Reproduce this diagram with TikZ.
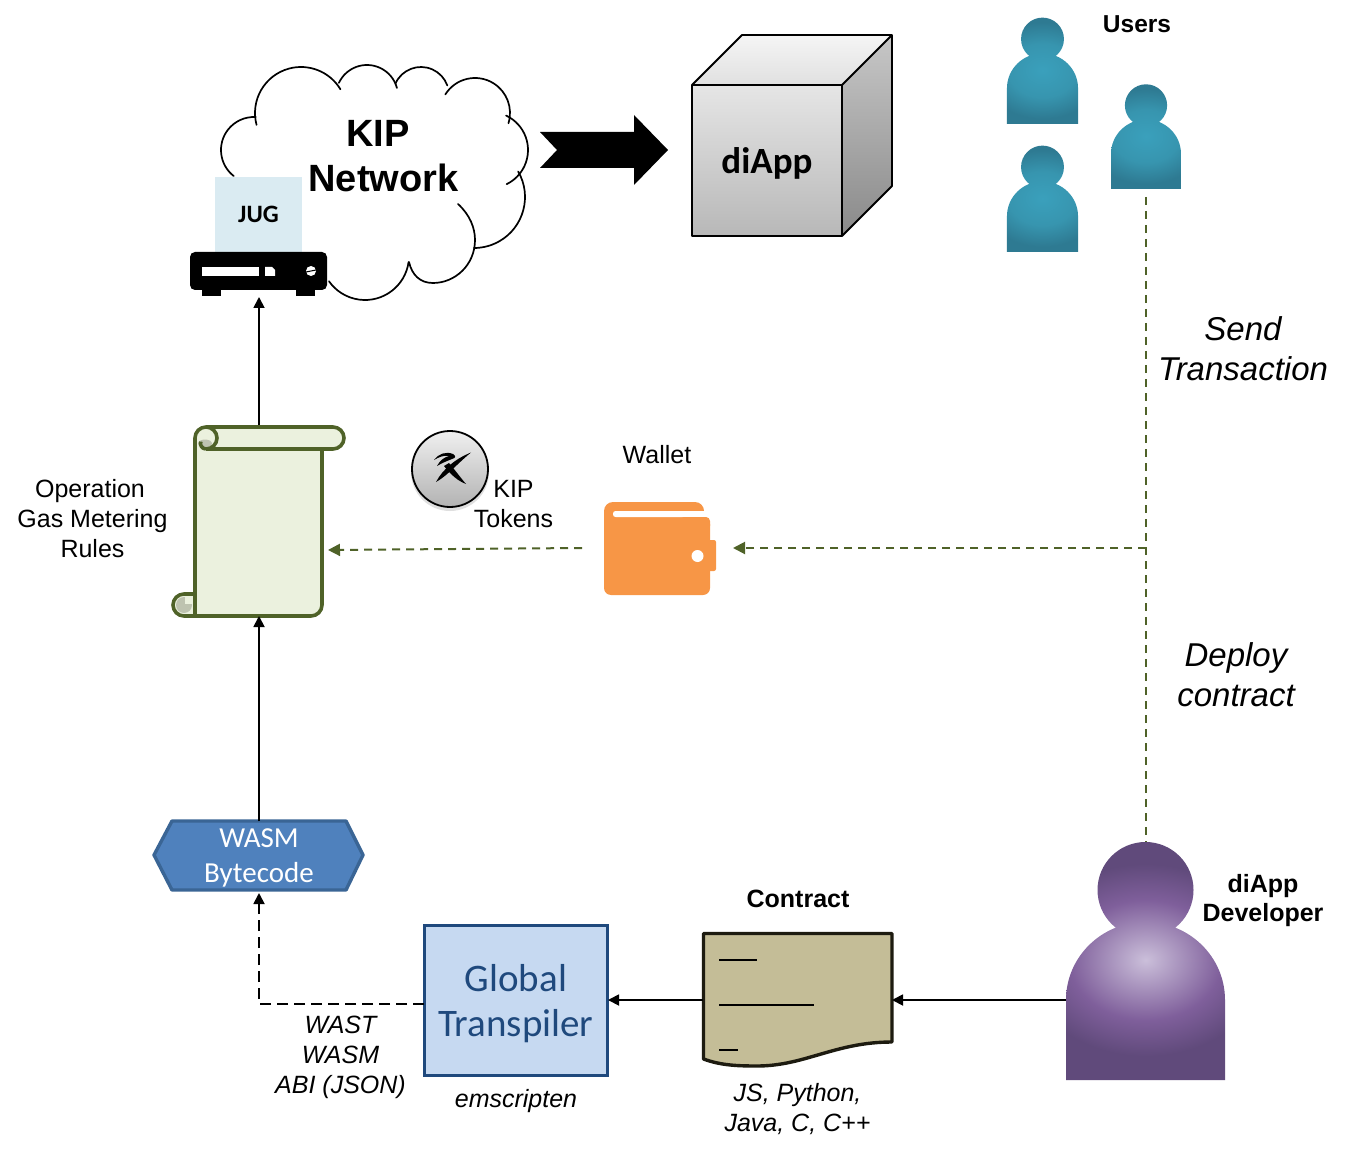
\documentclass[tikz,border=0pt]{standalone}
\usepackage{fontspec}
\setmainfont{Liberation Sans}
\newfontfamily\carlito{Carlito}
\usetikzlibrary{arrows.meta}
\definecolor{grn}{HTML}{4F6228}
\definecolor{scrollfill}{HTML}{EBF1DE}
\definecolor{curlfill}{HTML}{BEC3B0}
\definecolor{wal}{HTML}{F79646}
\definecolor{navy}{HTML}{1F497D}
\definecolor{navya}{HTML}{4F81BD}
\definecolor{navyb}{HTML}{3A6595}
\definecolor{jugfill}{HTML}{DAEBF2}
\definecolor{gtfill}{HTML}{C6D9F1}
\definecolor{docfill}{HTML}{C4BD97}
\definecolor{docline}{HTML}{1D1B10}
\definecolor{devA}{HTML}{CBBFDA}
\definecolor{devB}{HTML}{7F5F9B}
\definecolor{devC}{HTML}{604A7B}
\definecolor{tealA}{HTML}{3AA0BC}
\definecolor{tealB}{HTML}{3795AF}
\definecolor{tealC}{HTML}{2E7A92}
\pgfdeclareradialshading{devshade}{\pgfpoint{0bp}{0bp}}{color(0bp)=(devA);color(10bp)=(devB);color(16bp)=(devC);color(50bp)=(devC)}
\pgfdeclareradialshading{tealshade}{\pgfpoint{0bp}{0bp}}{color(0bp)=(tealA);color(10bp)=(tealB);color(18bp)=(tealC);color(50bp)=(tealC)}
\newcommand{\personicon}[4]{%
  \begin{scope}[shift={(#1,#2)},scale=#3]
    \clip (0,-190) circle[radius=48] (-79.5,0) -- (-79.5,-80) arc[start angle=180,end angle=360,x radius=79.5,y radius=78] -- (79.5,0) -- cycle;
    \shade[shading=#4] (0,-120) ellipse[x radius=190,y radius=150];
  \end{scope}}
\newcommand{\lobe}[5]{\draw[cloudline] (#1,#2) ++(#4:#3) arc[start angle=#4,end angle=#5,radius=#3];}
\tikzset{
  x=1pt,y=-1pt,
  lbl/.style={font=\fontsize{25}{30}\selectfont,align=center,inner sep=0pt},
  lblb/.style={font=\fontsize{25}{29.5}\selectfont\bfseries,align=center,inner sep=0pt},
  lbli/.style={font=\fontsize{25}{30}\selectfont\itshape,align=center,inner sep=0pt},
  lblbig/.style={font=\fontsize{33}{40}\selectfont\itshape,align=center,inner sep=0pt},
  kiptext/.style={font=\fontsize{38}{40}\selectfont\bfseries,inner sep=0pt},
  cloudline/.style={line width=1.7pt,line cap=round},
  conn/.style={line width=1.8pt,-{Triangle[length=11pt,width=11pt]}},
  greendash/.style={line width=2pt,draw=grn,dash pattern=on 8pt off 6pt},
  greenarrow/.style={greendash,-{Triangle[length=12pt,width=12pt]}},
  scrollline/.style={draw=grn,line width=3.6pt,line join=round},
}
\begin{document}
\begin{tikzpicture}
\path[use as bounding box] (0,0) rectangle (1347,1150);

% cloud
\lobe{254}{150}{33}{128}{273}
\lobe{301}{113}{46}{165}{329}
\lobe{367}{96}{31}{205}{345}
\lobe{421}{95}{28}{204}{340}
\lobe{475}{113}{35}{212}{377}
\lobe{490}{150}{38}{295}{424}
\lobe{474}{197}{51}{330}{450}
\draw[cloudline] (458,204) .. controls (470,215) and (475,228) .. (475,240) .. controls (475,265) and (455,283) .. (433,283) .. controls (420,283) and (412,275) .. (409,262);
\lobe{365}{256}{44}{8}{145}

\node[kiptext] (kip) at (378,133) {KIP};
\node[kiptext] (net) at (383.5,178) {Network};

% JUG & router
\node[inner sep=0pt,minimum width=87pt,minimum height=75pt,fill=jugfill,font=\carlito\bfseries\fontsize{25}{28}\selectfont] (jug) at (258.5,214.5) {JUG};
\fill[rounded corners=5pt] (190,252) rectangle (327,290);
\fill (202,288) rectangle (221,296);
\fill (296,288) rectangle (315,296);
\fill[white] (202,267) rectangle (259,276);
\fill[white] (265,267) -- (272,267) -- (275,270) -- (275,276) -- (265,276) -- cycle;
\fill[white] (311,271) circle[radius=5];
\draw[line width=1pt] (306,272) -- (316,270);
\coordinate (routerb) at (259,297);

% big arrow
\fill (540,132) -- (634,132) -- (634,115) -- (668,150) -- (634,185) -- (634,168) -- (540,168) -- (557,150) -- cycle;

% cube
\shade[top color=white!96!black,bottom color=white!88!black] (692,85) -- (742,35) -- (892,35) -- (842,85) -- cycle;
\shade[top color=black!22,bottom color=black!46] (842,85) -- (892,35) -- (892,186) -- (842,236) -- cycle;
\shade[top color=white!90!black,bottom color=white!72!black] (692,85) rectangle (842,236);
\draw[line width=1.8pt,line join=round] (692,85) -- (742,35) -- (892,35) -- (892,186) -- (842,236) -- (692,236) -- cycle (692,85) -- (842,85) -- (892,35) (842,85) -- (842,236);
\node[inner sep=0pt,font=\carlito\bfseries\fontsize{37}{40}\selectfont] (diapp) at (767,163) {diApp};

% users
\personicon{1042.5}{124}{.447}{tealshade}
\personicon{1042.5}{252}{.447}{tealshade}
\personicon{1146}{189}{.44}{tealshade}
\node[lblb,font=\fontsize{24.5}{29}\selectfont\bfseries] (users) at (1137,24) {Users};
\coordinate (u3) at (1146,197);

% scroll
\draw[scrollline,fill=scrollfill] (195,605) -- (195,438) arc[start angle=180,end angle=270,radius=11] -- (333,427) arc[start angle=270,end angle=450,radius=11] -- (322,449) -- (322,605) arc[start angle=0,end angle=90,radius=11] -- (184,616) arc[start angle=90,end angle=270,radius=11] -- (195,594);
\draw[scrollline] (206,449) -- (322,449);
\fill[scrollfill] (197,596) rectangle (204,614);
\draw[scrollline] (195,594) -- (195,614);
\fill[curlfill] (184,605) circle[radius=8];
\fill[scrollfill] (185,597) rectangle (193,604);
\fill[curlfill] (205,443.5) ellipse[x radius=7,y radius=4];
\draw[scrollline] (206,449) arc[start angle=90,end angle=200,radius=5.5];
\draw[scrollline] (206,427) arc[start angle=270,end angle=450,radius=11];
\coordinate (scrolltop) at (259,425);
\coordinate (scrollbot) at (259,616);
\coordinate (scrollr) at (328,550);

\node[lbl] (oper) at (92.5,519) {Operation\hspace*{5pt}\\Gas Metering\\Rules};

% coin
\fill[black!25,opacity=.5] (450,472) circle[radius=39];
\shade[top color=white!94!black,bottom color=black!30] (450,469) circle[radius=38];
\draw[line width=1.8pt] (450,469) circle[radius=38];
\fill (471,452.5) .. controls (455,459) and (443,469) .. (436,482) .. controls (447,476) and (457,464) .. (471,452.5) -- cycle;
\fill (444,466) .. controls (451,475) and (458,481) .. (466,484) .. controls (460,477) and (455,470) .. (449,463) -- cycle;
\fill (434,460) .. controls (438,454) and (446,451) .. (453,454) .. controls (456,456) and (456,458) .. (452,459) .. controls (447,461) and (442,463) .. (437,466) .. controls (440,460) and (445,457) .. (449,456) .. controls (444,455) and (439,457) .. (434,460) -- cycle;
\node[lbl] (tok) at (513.5,504) {KIP\\Tokens};

% wallet
\fill[wal,rounded corners=9pt] (604,540) -- (604,502) -- (704,502) -- (704,530) -- (604,530) -- cycle;
\fill[wal,rounded corners=7pt] (604,510) -- (710,517) -- (710,595) -- (604,595) -- cycle;
\fill[wal,rounded corners=2pt] (705,540) rectangle (716,571);
\fill[white,rounded corners=2.5pt] (613,511) rectangle (720,517);
\fill[wal,rounded corners=4pt] (680,517) -- (710,517) -- (710,530) -- (680,530) -- cycle;
\fill[white] (704,511.5) rectangle (716,517);
\fill[white] (697.5,556) circle[radius=6];
\node[lbl] (wallet) at (657,455) {Wallet};
\coordinate (walletr) at (733,548);
\coordinate (walletl) at (582,548);

% dashed connectors
\coordinate (devtop) at (1146,842);
\coordinate (junction) at (1146,548);
\draw[greendash] (u3) -- (devtop);
\draw[greenarrow] (junction) -- (walletr);
\draw[greenarrow] (walletl) -- (scrollr);
\node[lblbig] (send) at (1243,349) {Send\\Transaction};
\node[lblbig] (deploy) at (1236,675) {Deploy\\contract};

% wasm
\draw[draw=navyb,line width=3.4pt,fill=navya,line join=round] (172,821) -- (346,821) -- (363,855) -- (346,890) -- (172,890) -- (154,855) -- cycle;
\node[text=white,inner sep=0pt,align=center,font=\carlito\fontsize{29}{35}\selectfont] (wasm) at (259,858) {WASM\\Bytecode};
\coordinate (wasmt) at (259,821);
\coordinate (wasmb) at (259,893);

% transpiler
\node[draw=navy,line width=3.8pt,fill=gtfill,minimum width=183pt,minimum height=150pt,inner sep=0pt] (gt) at (516,1000.5) {};
\node[text=navy,align=center,inner sep=0pt,font=\carlito\fontsize{39}{45}\selectfont] (gttext) at (516,1003.5) {Global\\Transpiler};
\node[lbli] (ems) at (516,1101) {emscripten};
\node[lbli] (wast) at (340.5,1057) {WAST\\WASM\\ABI (JSON)};
\coordinate (gtl) at (424,1004);
\coordinate (gtr) at (608,1000);
\coordinate (corner) at (259,1004);

% contract document
\draw[draw=docline,line width=3.4pt,fill=docfill,line join=round] (703.5,933.5) -- (892,933.5) -- (892,1042) .. controls (835,1042) and (805,1066) .. (757,1066) .. controls (735,1066) and (720,1065) .. (703.5,1059) -- cycle;
\draw[line width=2pt] (719,960) -- (757,960);
\draw[line width=2pt] (719,1005) -- (814,1005);
\draw[line width=2pt] (719,1050) -- (738,1050);
\node[lblb] (contract) at (798,899) {Contract};
\node[lbli] (langs) at (797.5,1109.5) {JS, Python,\\Java, C, C++};
\coordinate (docl) at (703,1000);
\coordinate (docr) at (892,1000);

% developer
\personicon{1145.5}{1080}{1}{devshade}
\node[lblb] (devl) at (1263,900.5) {diApp\\Developer};
\coordinate (devl2) at (1066,1000);

% solid connectors
\draw[conn] (scrolltop) -- (routerb);
\draw[conn] (wasmt) -- (scrollbot);
\draw[conn,dash pattern=on 11pt off 6pt] (gtl) -- (corner) -- (wasmb);
\draw[conn] (docl) -- (gtr);
\draw[conn] (devl2) -- (docr);
\end{tikzpicture}
\end{document}
